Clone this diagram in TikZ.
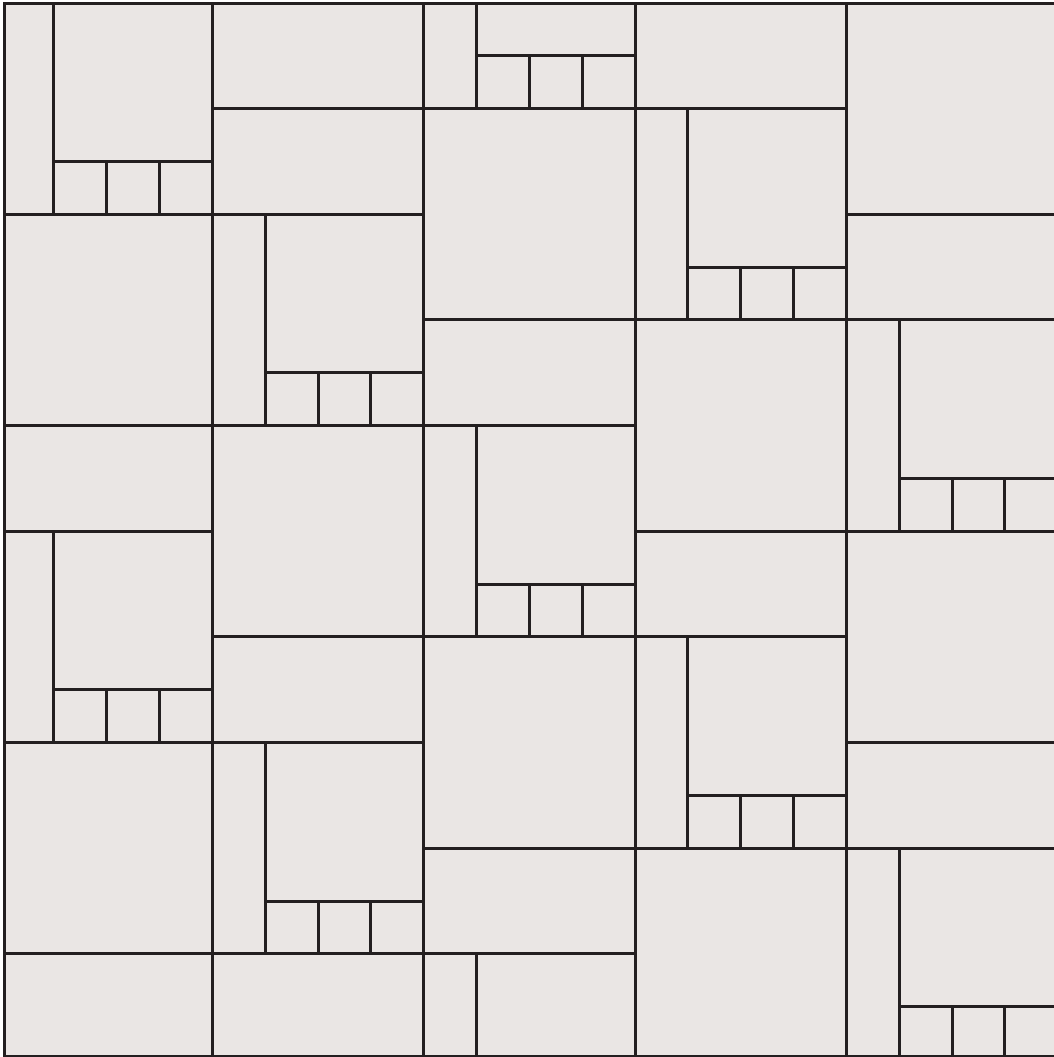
\documentclass[tikz,border=0pt]{standalone}
\definecolor{tilebg}{HTML}{EAE6E4}
\definecolor{tileline}{HTML}{231F20}
\tikzset{
  edge/.style={draw=tileline, line width=3pt, line join=miter},
}
\newcommand{\compositeTile}[2]{%
  \draw[edge] (#1,#2) rectangle ++(1,4);
  \draw[edge] (#1+1,#2) rectangle ++(3,3);
  \draw[edge] (#1+1,#2+3) rectangle ++(1,1);
  \draw[edge] (#1+2,#2+3) rectangle ++(1,1);
  \draw[edge] (#1+3,#2+3) rectangle ++(1,1);
}
\newcommand{\bigTile}[2]{\draw[edge] (#1,#2) rectangle ++(4,4);}
\newcommand{\longTile}[2]{\draw[edge] (#1,#2) rectangle ++(4,2);}
\begin{document}
\begin{tikzpicture}[x=1pt,y=-1pt]
  \useasboundingbox (0,0) rectangle (1053,1057);
  \fill[white] (0,0) rectangle (1053,1057);
  \fill[tilebg] (4,3.7) rectangle (1060,1056);
  \begin{scope}
    \clip (4,3.7) rectangle (1060,1056);
    \begin{scope}[shift={(1.1,2.9)}, x=52.83pt, y=-52.83pt]
      \foreach \a/\b in {0/0,0/10,4/4,4/14,8/-2,8/8,8/18,12/2,12/12,16/6,16/16}
        {\compositeTile{\a}{\b}}
      \foreach \a/\b in {0/4,0/14,4/8,8/2,8/12,12/6,12/16,16/0,16/10}
        {\bigTile{\a}{\b}}
      \foreach \a/\b in {0/8,0/18,4/0,4/2,4/12,4/18,8/6,8/16,12/0,12/10,16/4,16/14}
        {\longTile{\a}{\b}}
    \end{scope}
  \end{scope}
  \draw[edge] (4,3.7) rectangle (1060,1056);
\end{tikzpicture}
\end{document}
